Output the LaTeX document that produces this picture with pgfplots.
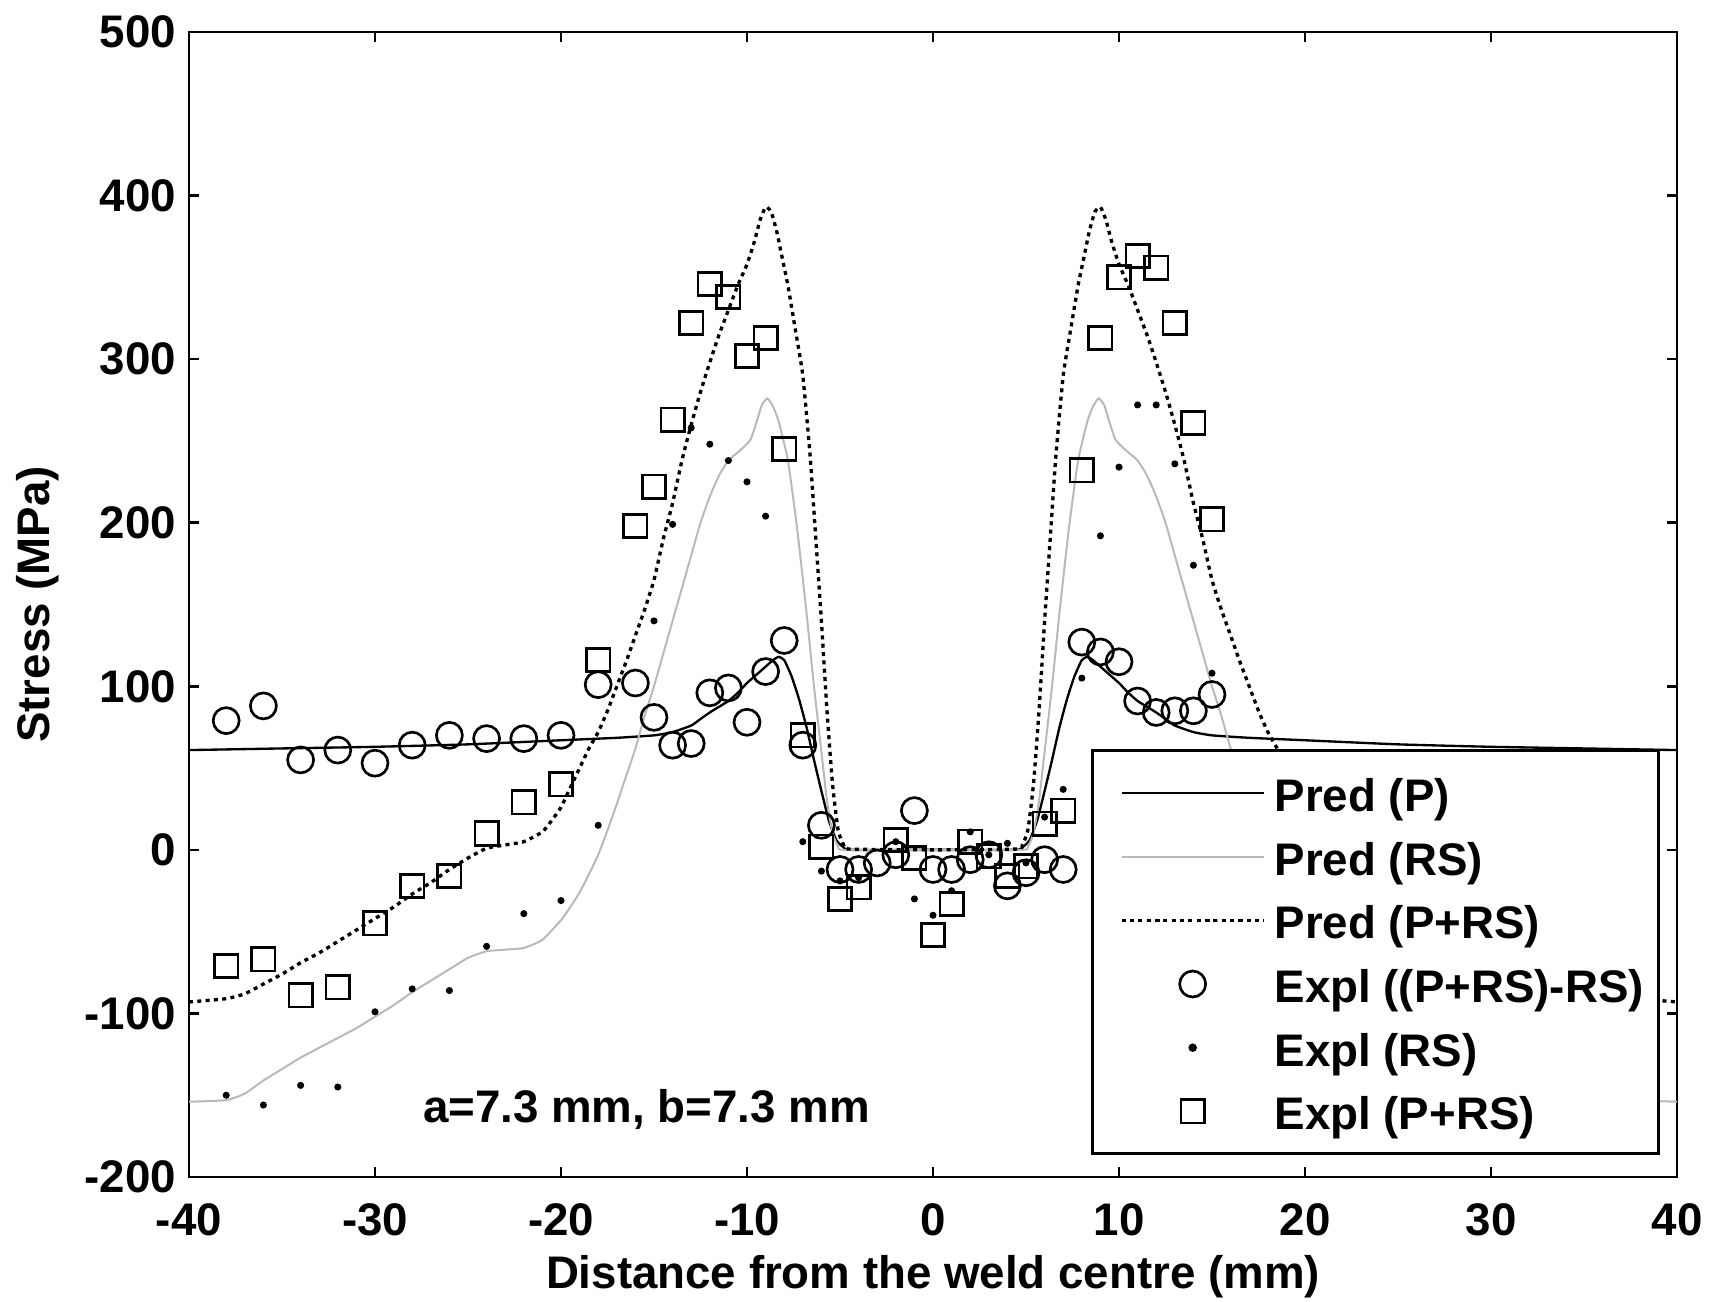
\documentclass[border=0pt]{standalone}
\usepackage{pgfplots}
\pgfplotsset{compat=1.18}
\usepackage{fontspec}
\setmainfont{Liberation Sans}
\definecolor{rsgray}{RGB}{185,185,185}
\newcommand{\lbl}{\fontsize{13.7}{16}\selectfont\bfseries}
\begin{document}
\begin{tikzpicture}
\begin{axis}[
  at={(0,0)}, anchor=south west,
  scale only axis, width=446.4pt, height=343.5pt,
  xmin=-40, xmax=40, ymin=-200, ymax=500,
  xtick={-40,-30,...,40}, xticklabels={-40,-30,-20,-10,0,10,20,30,40},
  ytick={-200,-100,...,500}, yticklabels={-200,-100,0,100,200,300,400,500},
  tick align=inside, major tick length=3pt,
  axis line style={line width=0.8pt},
  every tick/.style={line width=0.8pt,black},
  tick label style={font=\lbl},
  xticklabel style={inner sep=0pt, yshift=-7.8pt},
  yticklabel style={xshift=-0.4pt},
  xlabel style={at={(axis description cs:0.5,0)}, anchor=base, yshift=-33.3pt, font=\lbl},
  ylabel style={at={(axis description cs:-0.1015,0.5)}, anchor=center, font=\lbl},
  xlabel={Distance from the weld centre (mm)},
  ylabel={Stress (MPa)},
  legend cell align=left,
  legend style={at={(0.98857,0.0192)}, anchor=south east, draw=black, line width=0.8pt, fill=white,
    font=\lbl, inner xsep=0pt, inner ysep=5pt, row sep=3.7pt, column sep=3.3pt,
    nodes={inner sep=0pt, text height=13.2pt, text depth=2.2pt}},
  legend image code/.code={\pgfpathrectangle{\pgfpoint{0pt}{-4.5pt}}{\pgfpoint{51.3pt}{9pt}}\pgfusepath{use as bounding box}
    \draw[mark repeat=2,mark phase=2,#1] plot coordinates {(8.7pt,0pt) (30pt,0pt) (51.3pt,0pt)};},
]
% Pred (P)
\addplot[black, line width=0.7pt, smooth, tension=0.3] coordinates {
(-40,61) (-35,62) (-30,63) (-25,64.5) (-20,67) (-17,68.5) (-15,70) (-14,72) (-13,76) (-12.5,80) (-12,84) (-11.5,87.5) (-11,91) (-10.5,96) (-10,102) (-9.5,107) (-9,112) (-8.6,116) (-8.3,118) (-8.0,116) (-7.6,106) (-7.2,92) (-6.8,75) (-6.4,55) (-6.0,36) (-5.6,18) (-5.2,6) (-4.8,1.5) (-4.4,0) (0,0)
(4.4,0) (4.8,1.5) (5.2,6) (5.6,18) (6.0,36) (6.4,55) (6.8,75) (7.2,92) (7.6,106) (8.0,116) (8.3,118) (8.6,116) (9,112) (9.5,107) (10,102) (10.5,96) (11,91) (11.5,87.5) (12,84) (12.5,80) (13,76) (14,72) (15,70) (17,68.5) (20,67) (25,64.5) (30,63) (35,62) (40,61)};
\addlegendentry{\makebox[115.2pt][l]{Pred (P)}}
% Pred (RS)
\addplot[rsgray, line width=0.6pt, smooth, tension=0.3] coordinates {
(-40,-154) (-38,-153) (-37,-149) (-36,-141) (-35,-134) (-34,-127) (-33,-121) (-32,-115) (-31,-109) (-30,-102) (-29,-95) (-28,-87) (-27,-80) (-26,-73) (-25,-66) (-24,-62) (-23,-61) (-22,-60) (-21,-55) (-20,-43) (-19.5,-35) (-19,-26) (-18.5,-15) (-18,-3) (-17.5,12) (-17,28) (-16.5,45) (-16,62) (-15.5,82) (-15,100) (-14.5,120) (-14,140) (-13.5,160) (-13,180) (-12.5,200) (-12,216) (-11.5,229) (-11,238) (-10.5,243) (-10.2,246) (-9.8,251) (-9.5,261) (-9.2,272) (-8.9,276) (-8.6,271) (-8.3,262) (-7.8,238) (-7.3,196) (-6.8,145) (-6.4,100) (-6.0,60) (-5.7,30) (-5.4,10) (-5.1,2) (-4.8,0) (0,0)
(4.8,0) (5.1,2) (5.4,10) (5.7,30) (6.0,60) (6.4,100) (6.8,145) (7.3,196) (7.8,238) (8.3,262) (8.6,271) (8.9,276) (9.2,272) (9.5,261) (9.8,251) (10.2,246) (10.5,243) (11,238) (11.5,229) (12,216) (12.5,200) (13,180) (13.5,160) (14,140) (14.5,120) (15,100) (15.5,82) (16,62) (16.5,45) (17,28) (17.5,12) (18,-3) (18.5,-15) (19,-26) (19.5,-35) (20,-43) (21,-55) (22,-60) (23,-61) (24,-62) (25,-66) (26,-73) (27,-80) (28,-87) (29,-95) (30,-102) (31,-109) (32,-115) (33,-121) (34,-127) (35,-134) (36,-141) (37,-149) (38,-153) (40,-154)};
\addlegendentry{\makebox[115.2pt][l]{Pred (RS)}}
% Pred (P+RS)
\addplot[black, line width=1pt, dash pattern=on 1.2pt off 1.3pt, smooth, tension=0.3] coordinates {
(-40,-93) (-38,-91) (-37,-88) (-36,-82) (-35,-76) (-34,-69) (-33,-63) (-32,-56) (-31,-49) (-30,-42) (-29,-35) (-28,-27) (-27,-20) (-26,-12) (-25,-5) (-24,1) (-23,3) (-22,5) (-21,11) (-20.5,18) (-20,26) (-19.5,38) (-19,50) (-18.5,62) (-18,72) (-17.5,85) (-17,100) (-16.5,115) (-16,131) (-15.5,147) (-15,165) (-14.5,190) (-14,212) (-13.5,238) (-13,260) (-12.5,280) (-12,298) (-11.5,315) (-11,330) (-10.5,345) (-10,358) (-9.6,372) (-9.3,385) (-9.0,393) (-8.7,390) (-8.4,378) (-8.2,367) (-7.8,345) (-7.4,318) (-7.0,290) (-6.6,240) (-6.3,190) (-6.0,140) (-5.7,85) (-5.4,40) (-5.1,12) (-4.8,3) (-4.5,0.5) (0,0)
(4.5,0.5) (4.8,3) (5.1,12) (5.4,40) (5.7,85) (6.0,140) (6.3,190) (6.6,240) (7.0,290) (7.4,318) (7.8,345) (8.2,367) (8.4,378) (8.7,390) (9.0,393) (9.3,385) (9.6,372) (10,358) (10.5,345) (11,330) (11.5,315) (12,298) (12.5,280) (13,260) (13.5,238) (14,212) (14.5,190) (15,165) (15.5,147) (16,131) (16.5,115) (17,100) (17.5,85) (18,72) (18.5,62) (19,50) (19.5,38) (20,26) (20.5,18) (21,11) (22,5) (23,3) (24,1) (25,-5) (26,-12) (27,-20) (28,-27) (29,-35) (30,-42) (31,-49) (32,-56) (33,-63) (34,-69) (35,-76) (36,-82) (37,-88) (38,-91) (40,-93)};
\addlegendentry{\makebox[115.2pt][l]{Pred (P+RS)}}
% Expl ((P+RS)-RS)
\addplot[only marks, mark=o, mark size=3.9pt, mark options={line width=0.8pt, black}] coordinates {
(-38,79) (-36,88) (-34,55) (-32,61) (-30,53) (-28,64) (-26,70) (-24,68) (-22,68) (-20,70) (-18,101) (-16,102) (-15,81) (-14,64) (-13,65) (-12,96) (-11,99) (-10,78) (-9,109) (-8,128) (-7,64) (-6,15) (-5,-12) (-4,-12) (-3,-8) (-2,-3) (-1,24) (0,-12) (1,-12) (2,-6) (3,-3) (4,-22) (5,-14) (6,-6) (7,-12) (8,127) (9,121) (10,115) (11,91) (12,84) (13,85) (14,85) (15,95)};
\addlegendentry{\makebox[115.2pt][l]{Expl ((P+RS)-RS)}}
% Expl (RS)
\addplot[only marks, mark=*, mark size=0.85pt, mark options={black}] coordinates {
(-38,-150) (-36,-156) (-34,-144) (-32,-145) (-30,-99) (-28,-85) (-26,-86) (-24,-59) (-22,-39) (-20,-31) (-18,15) (-15,140) (-14,199) (-13,258) (-12,248) (-11,238) (-10,225) (-9,204) (-7,5) (-6,-13) (-5,-19) (-4,-17) (-2,5) (-1,-30) (0,-40) (1,-25) (2,11) (3,-3) (4,4) (5,-8) (6,20) (7,37) (8,105) (9,192) (10,234) (11,272) (12,272) (13,236) (14,174) (15,108)};
\addlegendentry{\makebox[115.2pt][l]{Expl (RS)}}
% Expl (P+RS)
\addplot[only marks, mark=square, mark size=3.5pt, mark options={line width=0.8pt, black}] coordinates {
(-38,-71) (-36,-67) (-34,-89) (-32,-84) (-30,-45) (-28,-22) (-26,-16) (-24,10) (-22,29) (-20,40) (-18,116) (-16,198) (-15,222) (-14,263) (-13,322) (-12,346) (-11,338) (-10,302) (-9,313) (-8,245) (-7,70) (-6,2) (-5,-30) (-4,-23) (-2,6) (-1,-5) (0,-52) (1,-33) (2,5) (3,-4) (4,-16) (5,-10) (6,16) (7,24) (8,232) (9,313) (10,350) (11,363) (12,356) (13,322) (14,261) (15,202)};
\addlegendentry{\makebox[115.2pt][l]{Expl (P+RS)}}
\node[font=\lbl] at (axis cs:-15.4,-159) {a=7.3 mm, b=7.3 mm};
\end{axis}
\pgfresetboundingbox
\path (-56.7pt,-37.2pt) rectangle (456.3pt,353.1pt);
\end{tikzpicture}
\end{document}
